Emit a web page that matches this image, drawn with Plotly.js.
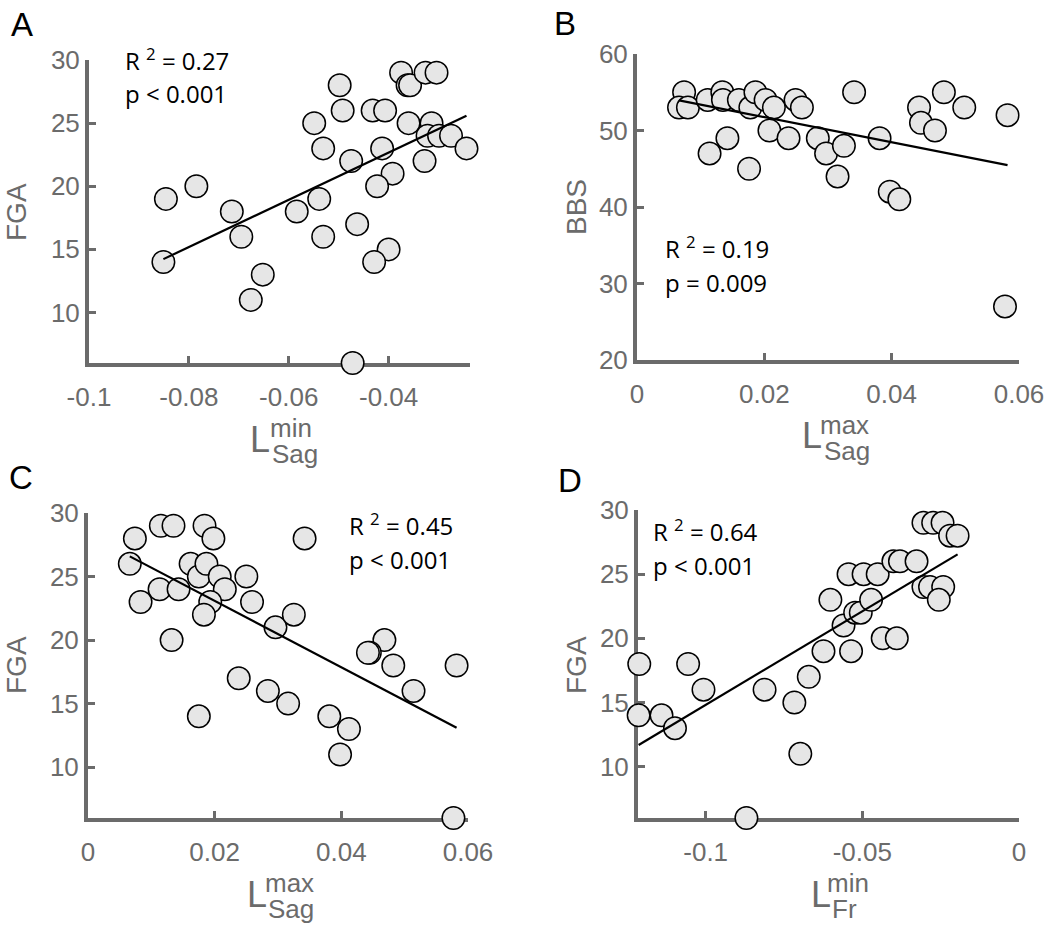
<!DOCTYPE html>
<html>
<head>
<meta charset="utf-8">
<script src="https://cdn.plot.ly/plotly-3.0.1.min.js"></script>
<style>html,body{margin:0;padding:0;background:#fff;}#chart{width:1050px;height:930px;}</style>
</head>
<body>
<div id="chart"></div>
<script>
// ---- Data ----
// Panel A: FGA vs L_Sag^min
var aX = [-0.0846,-0.0785,-0.0851,-0.0714,-0.0695,-0.0652,-0.0676,-0.0584,-0.0539,-0.0531,-0.0549,-0.0531,-0.0498,-0.0492,-0.0475,-0.0463,-0.0472,-0.0432,-0.0407,-0.0413,-0.0392,-0.0423,-0.0400,-0.0429,-0.0375,-0.0362,-0.0357,-0.0326,-0.0304,-0.0360,-0.0314,-0.0322,-0.0299,-0.0275,-0.0328,-0.0244];
var aY = [19,20,14,18,16,13,11,18,19,16,25,23,28,26,22,17,6,26,26,23,21,20,15,14,29,28,28,29,29,25,25,24,24,24,22,23];
// Panel B: BBS vs L_Sag^max
var bX = [0.0074,0.0066,0.0080,0.0111,0.0114,0.0134,0.0135,0.0142,0.0160,0.0176,0.0178,0.0186,0.0202,0.0215,0.0208,0.0238,0.0249,0.0259,0.0284,0.0297,0.0325,0.0315,0.0341,0.0381,0.0397,0.0412,0.0443,0.0446,0.0468,0.0482,0.0514,0.0582,0.0578];
var bY = [55,53,53,54,47,55,54,49,54,45,53,55,54,53,50,49,54,53,49,47,48,44,55,49,42,41,53,51,50,55,53,52,27];
// Panel C: FGA vs L_Sag^max
var cX = [0.0074,0.0066,0.0115,0.0135,0.0184,0.0198,0.0083,0.0113,0.0143,0.0162,0.0175,0.0187,0.0208,0.0216,0.0193,0.0183,0.0132,0.0175,0.0250,0.0259,0.0296,0.0325,0.0342,0.0238,0.0284,0.0316,0.0381,0.0412,0.0398,0.0468,0.0445,0.0442,0.0482,0.0514,0.0582,0.0577];
var cY = [28,26,29,29,29,28,23,24,24,26,25,26,25,24,23,22,20,14,25,23,21,22,28,17,16,15,14,13,11,20,19,19,18,16,18,6];
// Panel D: FGA vs L_Fr^min
var dX = [-0.1212,-0.1214,-0.1141,-0.1098,-0.1056,-0.1007,-0.0870,-0.0812,-0.0717,-0.0698,-0.0671,-0.0624,-0.0602,-0.0560,-0.0536,-0.0544,-0.0496,-0.0451,-0.0523,-0.0505,-0.0472,-0.0435,-0.0390,-0.0401,-0.0380,-0.0327,-0.0305,-0.0284,-0.0242,-0.0256,-0.0305,-0.0274,-0.0244,-0.0220,-0.0196];
var dY = [18,14,14,13,18,16,6,16,15,11,17,19,23,21,19,25,25,25,22,22,23,20,20,26,26,26,24,24,24,23,29,29,29,28,28];
// Linear fits (slope, intercept)
var fitA = [187.1, 30.15];
var fitB = [-164.0, 55.02];
var fitC = [-261.2, 28.31];
var fitD = [145.9, 29.40];
// Stats text
var statsA = ["0.27", "p &lt; 0.001"];
var statsB = ["0.19", "p = 0.009"];
var statsC = ["0.45", "p &lt; 0.001"];
var statsD = ["0.64", "p &lt; 0.001"];
// Tick values / labels
var ticksAx = [-0.1,-0.08,-0.06,-0.04], labAx = ["-0.1","-0.08","-0.06","-0.04"];
var ticksBx = [0,0.02,0.04,0.06], labBx = ["0","0.02","0.04","0.06"];
var ticksDx = [-0.1,-0.05,0], labDx = ["-0.1","-0.05","0"];
var ticksFGA = [10,15,20,25,30];
var ticksBBS = [20,30,40,50,60];

// ---- Rendering ----
var W = 1050, H = 930;
var GRAY = '#6b6b6b';
var TF = 'Liberation Sans, Arial, Helvetica, sans-serif';
var RF = 'Open Sans, Liberation Sans, sans-serif';
function px(x){ return x / W; }
function py(y){ return 1 - y / H; }

function scatter(x, y, xa, ya){
  return {x:x, y:y, xaxis:xa, yaxis:ya, type:'scatter', mode:'markers', cliponaxis:false,
    marker:{size:22.5, color:'#e6e6e6', line:{color:'#000', width:1.5}}, hoverinfo:'x+y'};
}
function fitLine(x, fit, xa, ya){
  var lo = Math.min.apply(null, x), hi = Math.max.apply(null, x);
  return {x:[lo, hi], y:[fit[0]*lo + fit[1], fit[0]*hi + fit[1]], xaxis:xa, yaxis:ya,
    type:'scatter', mode:'lines', cliponaxis:false, line:{color:'#000', width:2.2}, hoverinfo:'skip'};
}
function axis(domain, range, tv, tt, anchor, isX){
  return {domain:domain, range:range, anchor:anchor, tickmode:'array', tickvals:tv, ticktext:tt,
    showline:true, linecolor:GRAY, linewidth:4, ticks:'inside', ticklen:7, tickwidth:3, tickcolor:GRAY,
    showgrid:false, zeroline:false, layer:'below traces', fixedrange:true,
    ticklabelstandoff: isX ? 8 : 0,
    tickfont:{family:TF, size:26, color:GRAY}};
}

var data = [
  scatter(aX, aY, 'x', 'y'), fitLine(aX, fitA, 'x', 'y'),
  scatter(bX, bY, 'x2', 'y2'), fitLine(bX, fitB, 'x2', 'y2'),
  scatter(cX, cY, 'x3', 'y3'), fitLine(cX, fitC, 'x3', 'y3'),
  scatter(dX, dY, 'x4', 'y4'), fitLine(dX, fitD, 'x4', 'y4')
];

var ticksFGAt = ticksFGA.map(String), ticksBBSt = ticksBBS.map(String);
var xA = axis([px(89), px(470)], [-0.1, -0.0237], ticksAx, labAx, 'y', true);
var yA = axis([py(363), py(60)], [6, 30], ticksFGA, ticksFGAt, 'x', false);
var xB = axis([px(637), px(1019)], [0, 0.06], ticksBx, labBx, 'y2', true);
var yB = axis([py(360), py(54)], [20, 60], ticksBBS, ticksBBSt, 'x2', false);
var xC = axis([px(88), px(468)], [0, 0.06], ticksBx, labBx, 'y3', true);
var yC = axis([py(818), py(513)], [6, 30], ticksFGA, ticksFGAt, 'x3', false);
var xD = axis([px(638), px(1019)], [-0.1216, 0], ticksDx, labDx, 'y4', true);
var yD = axis([py(818), py(510)], [6, 30], ticksFGA, ticksFGAt, 'x4', false);

var ann = [];
function txt(t, x, y, size, color, opts){
  var a = {text:t, xref:'paper', yref:'paper', x:px(x), y:py(y), showarrow:false,
    xanchor:'left', yanchor:'middle', font:{family:TF, size:size, color:color}};
  for (var k in opts) a[k] = opts[k];
  ann.push(a);
}
// panel letters
txt('A', 9, 25, 33, '#000');
txt('B', 552, 23, 33, '#000');
txt('C', 7, 477, 33, '#000');
txt('D', 556, 480, 33, '#000');
// y titles
txt('FGA', 16, 212, 28, GRAY, {textangle:-90, xanchor:'center'});
txt('BBS', 576, 207, 28, GRAY, {textangle:-90, xanchor:'center'});
txt('FGA', 16, 665, 28, GRAY, {textangle:-90, xanchor:'center'});
txt('FGA', 576, 665, 28, GRAY, {textangle:-90, xanchor:'center'});
// x titles: L with stacked superscript / subscript
function ltitle(axisY, lx, supx, subx, sup, sub){
  txt('L', lx, axisY + 76, 36, GRAY);
  txt(sup, supx, axisY + 65, 26, GRAY);
  txt(sub, subx, axisY + 91, 26, GRAY);
}
ltitle(363, 248, 268, 270, 'min', 'Sag');
ltitle(360, 800, 818, 822, 'max', 'Sag');
ltitle(818, 245, 263, 266, 'max', 'Sag');
ltitle(818, 809, 825, 830, 'min', 'Fr');
// stats
function stats(s, x, yb1, yb2){
  ann.push({text:'R <sup>2</sup> = ' + s[0], xref:'paper', yref:'paper', x:px(x), y:py(yb1 + 7),
    xanchor:'left', yanchor:'bottom', showarrow:false, font:{family:RF, size:24, color:'#000'}});
  ann.push({text:s[1], xref:'paper', yref:'paper', x:px(x), y:py(yb2 + 7),
    xanchor:'left', yanchor:'bottom', showarrow:false, font:{family:RF, size:24, color:'#000'}});
}
stats(statsA, 123, 72, 105);
stats(statsB, 663, 260, 294);
stats(statsC, 347, 537, 571);
stats(statsD, 651, 543, 577);

var layout = {
  width:W, height:H, margin:{l:0, r:0, t:0, b:0}, paper_bgcolor:'#fff', plot_bgcolor:'rgba(0,0,0,0)',
  showlegend:false,
  xaxis:xA, yaxis:yA, xaxis2:xB, yaxis2:yB, xaxis3:xC, yaxis3:yC, xaxis4:xD, yaxis4:yD,
  annotations:ann
};
Plotly.newPlot('chart', data, layout, {displayModeBar:false, staticPlot:true});
</script>
</body>
</html>
